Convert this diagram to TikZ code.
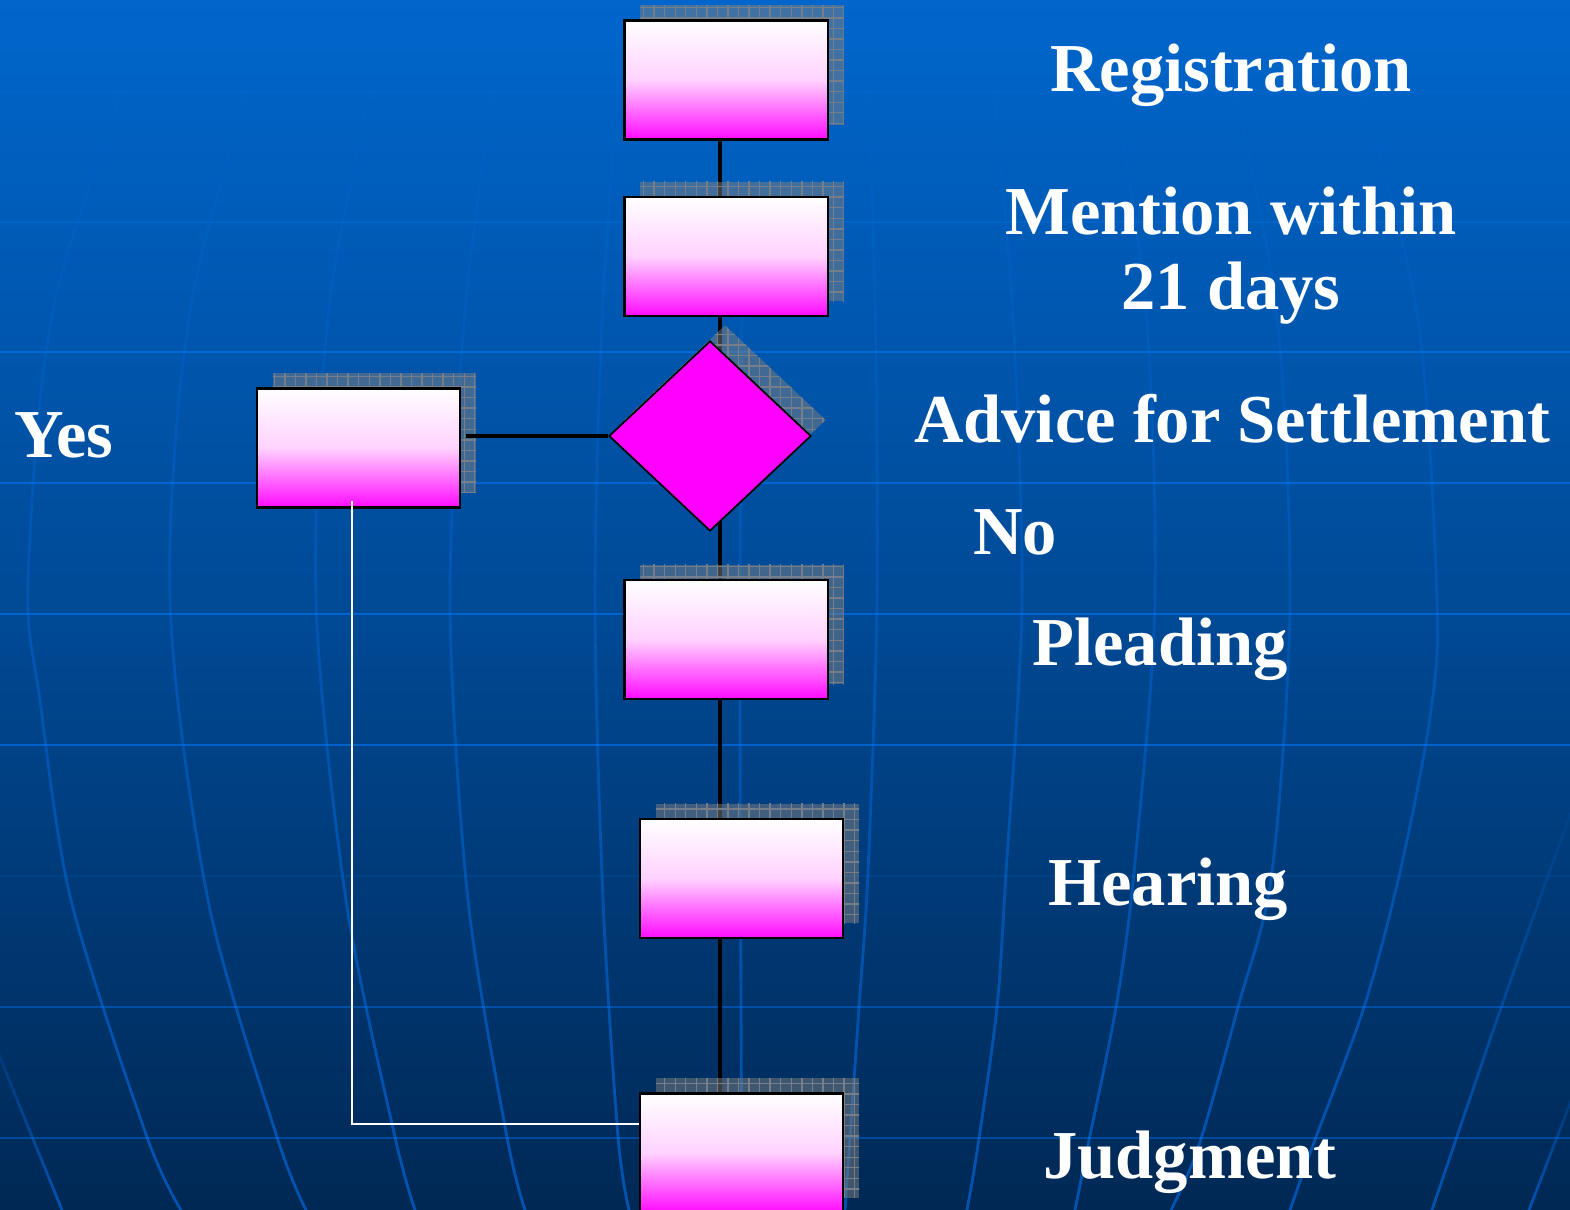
\documentclass[tikz,border=0pt]{standalone}
\usepackage{fontspec}
\setmainfont{Liberation Serif}
\usetikzlibrary{shapes.geometric,shadows,backgrounds,fadings,patterns}
\definecolor{skytop}{RGB}{0,102,204}
\definecolor{skymid}{RGB}{0,74,150}
\definecolor{skybot}{RGB}{0,40,84}
\definecolor{gridblue}{RGB}{0,120,255}
\definecolor{pinkmid}{RGB}{255,210,255}
\definecolor{pinkbot}{RGB}{255,10,255}
\definecolor{choicepink}{RGB}{255,0,255}
\definecolor{shadegray}{RGB}{128,128,128}
\definecolor{shadeline}{RGB}{118,126,138}
\tikzset{
  stage/.style={draw=black, line width=0.6pt, top color=white, bottom color=pinkbot, middle color=pinkmid,
    minimum width=2.03cm, minimum height=1.19cm, inner sep=0pt,
    general shadow={fill=shadegray, fill opacity=.5, shadow xshift=1.6mm, shadow yshift=1.5mm,
      postaction={pattern=grid, pattern color=shadeline}}},
  choice/.style={diamond, draw=black, line width=0.5pt, fill=choicepink,
    minimum width=2.02cm, minimum height=1.9cm, inner sep=0pt,
    general shadow={fill=shadegray, fill opacity=.5, shadow xshift=1.5mm, shadow yshift=1.6mm,
      postaction={pattern=grid, pattern color=shadeline}}},
  link/.style={draw=black, line width=1.4pt},
  backlink/.style={draw=white, line width=0.6pt},
  meridian/.style={draw=gridblue, line width=0.8pt, opacity=.55, path fading=north},
  parallel/.style={draw=gridblue, line width=0.8pt, opacity=#1},
  lab/.style={text=white, font=\fontsize{19.5}{21.6}\selectfont\bfseries, inner sep=0pt, anchor=base},
}

\begin{document}
\begin{tikzpicture}[x=0.01cm, y=-0.01cm]
  \useasboundingbox (0,0) rectangle (1570,1210);
  \coordinate (spine) at (720,0);

  \node[stage] (reg) at (726,80) {};
  \node[stage] (ment) at (726,256.5) {};
  \node[choice] (adv) at (710,436) {};
  \node[stage] (yes) at (358.5,448) {};
  \node[stage] (plead) at (726,639.5) {};
  \node[stage] (hear) at (741.5,878.5) {};
  \node[stage] (judg) at (741.5,1153) {};

  \node[lab] (reglab) at (1231,92) {Registration};
  \node[lab, align=center] (mentlab) at (1231,310) {Mention within\\21 days};
  \node[lab] (advlab) at (1232,443) {Advice for Settlement};
  \node[lab] (nolab) at (1015,555) {No};
  \node[lab] (pleadlab) at (1160,666) {Pleading};
  \node[lab] (hearlab) at (1168,906) {Hearing};
  \node[lab] (judglab) at (1190,1178) {Judgment};
  \node[lab] (yeslab) at (64,458) {Yes};

  \draw[link] ([xshift=0.5mm]yes.east |- adv.west) -- (adv.west);
  \draw[backlink] ([xshift=-0.65mm, yshift=0.8mm]yes.south) |- ([yshift=-3.2mm]judg.north west);

  \begin{scope}[on background layer]
    \shade[top color=skytop, bottom color=skybot, middle color=skymid] (0,0) rectangle (1570,1210);
    \foreach \y/\op in {92/.12, 222/.25, 352/.5, 483/.55, 614/.55, 745/.55, 876/.12, 1007/.4, 1138/.4}
      \draw[parallel=\op] (0,\y) -- (1570,\y);
    \draw[meridian] plot[smooth] coordinates {(-20,1000) (0,1057) (62,1210)};
    \draw[meridian] plot[smooth] coordinates {(155,0) (55,300) (28,580) (40,700) (71,900) (147,1137) (181,1210)};
    \draw[meridian] plot[smooth] coordinates {(275,0) (192,300) (170,600) (208,900) (277,1137) (306,1210)};
    \draw[meridian] plot[smooth] coordinates {(390,0) (330,300) (316,600) (346,900) (395,1137) (415,1210)};
    \draw[meridian] plot[smooth] coordinates {(505,0) (466,300) (450,600) (468,900) (507,1137) (525,1210)};
    \draw[meridian] plot[smooth] coordinates {(625,0) (603,300) (595,600) (603,900) (618,1137) (629,1210)};
    \draw[meridian] plot[smooth] coordinates {(745,0) (740,600) (742,1210)};
    \draw[meridian] plot[smooth] coordinates {(865,0) (875,300) (877,600) (868,872) (859,1007) (845,1210)};
    \draw[meridian] plot[smooth] coordinates {(985,0) (1012,300) (1022,600) (1006,872) (997,1007) (978,1145) (967,1210)};
    \draw[meridian] plot[smooth] coordinates {(1100,0) (1145,300) (1155,600) (1134,872) (1116,1007) (1088,1145) (1075,1210)};
    \draw[meridian] plot[smooth] coordinates {(1215,0) (1275,300) (1290,600) (1272,872) (1238,1007) (1199,1145) (1171,1210)};
    \draw[meridian] plot[smooth] coordinates {(1335,0) (1415,300) (1437,600) (1430,717) (1400,872) (1364,1007) (1313,1145) (1290,1210)};
    \draw[meridian] plot[smooth] coordinates {(1600,740) (1569,818) (1501,1008) (1432,1210)};
    \draw[meridian] plot[smooth] coordinates {(1590,1050) (1569,1106) (1529,1210)};
    \foreach \a/\b in {reg/ment, ment/adv, adv/plead, plead/hear, hear/judg}
      \draw[link] (spine |- \a.center) -- (spine |- \b.center);
  \end{scope}
\end{tikzpicture}
\end{document}
